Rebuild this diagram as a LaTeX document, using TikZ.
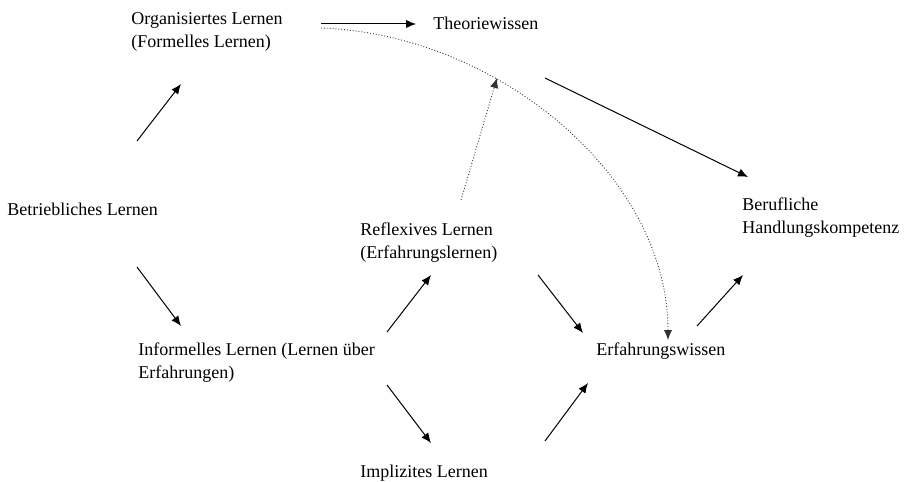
\documentclass[tikz,border=0pt]{standalone}
\usepackage{fontspec}
\setmainfont{Liberation Serif}
\usetikzlibrary{arrows.meta}

\begin{document}
\begin{tikzpicture}[x=0.5pt,y=-0.5pt]
	\tikzstyle{lbl} = [anchor=base west, inner sep=0pt, align=left, font=\fontsize{9}{11.5}\selectfont];
	\tikzstyle{pfeil} = [draw=black, line width=0.5pt, -{Latex[length=5pt,width=4.2pt]}];
	\tikzstyle{punkt} = [draw=black!80, line width=0.45pt, densely dotted, -{Latex[length=5pt,width=4.2pt]}];
	\useasboundingbox (0,0) rectangle (908,481);
	\draw node [lbl] at (7,215) (betr){Betriebliches Lernen};
	\draw node [lbl] at (131,48) (org){Organisiertes Lernen\\(Formelles Lernen)};
	\draw node [lbl] at (433,30) (theo){Theoriewissen};
	\draw node [lbl] at (360,258) (refl){Reflexives Lernen\\(Erfahrungslernen)};
	\draw node [lbl] at (742,233) (beruf){Berufliche\\Handlungskompetenz};
	\draw node [lbl] at (138,378) (inf){Informelles Lernen (Lernen über\\Erfahrungen)};
	\draw node [lbl] at (596,355) (erf){Erfahrungswissen};
	\draw node [lbl] at (360,477) (impl){Implizites Lernen};
	
	\path [pfeil] ([shift={(130,-74)}]betr.base west) -- ([shift={(50,36)}]org.base west);
	\path [pfeil] ([shift={(130,52)}]betr.base west) -- ([shift={(43,-52)}]inf.base west);
	\path [pfeil] ([shift={(190,-24)}]org.base west) -- ([shift={(-17,-6)}]theo.base west);
	\path [punkt] ([shift={(190,-20)}]org.base west) .. controls +(175,6) and +(0,-165) .. ([shift={(72,-15)}]erf.base west);
	\path [punkt] ([shift={(101,-58)}]refl.base west) -- ([shift={(64,48)}]theo.base west);
	\path [pfeil] ([shift={(112,48)}]theo.base west) -- ([shift={(6,-56)}]beruf.base west);
	\path [pfeil] ([shift={(249,-46)}]inf.base west) -- ([shift={(71,17)}]refl.base west);
	\path [pfeil] ([shift={(249,7)}]inf.base west) -- ([shift={(71,-34)}]impl.base west);
	\path [pfeil] ([shift={(178,17)}]refl.base west) -- ([shift={(-13,-22)}]erf.base west);
	\path [pfeil] ([shift={(185,-36)}]impl.base west) -- ([shift={(-8,28)}]erf.base west);
	\path [pfeil] ([shift={(101,-29)}]erf.base west) -- ([shift={(1,42)}]beruf.base west);
	
\end{tikzpicture}
\end{document}
